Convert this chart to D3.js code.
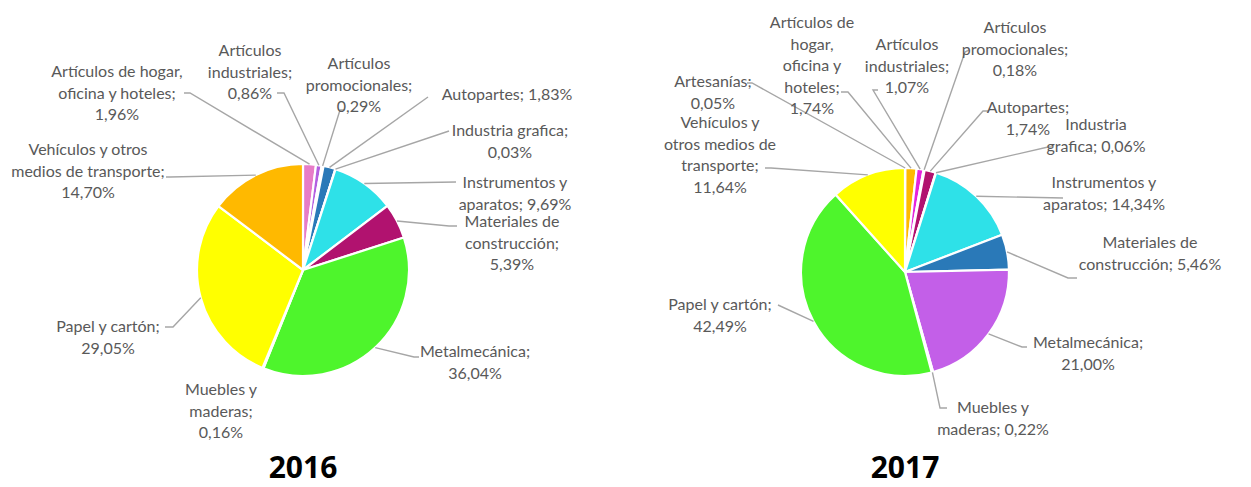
<!DOCTYPE html>
<html><head><meta charset="utf-8">
<script src="https://cdn.jsdelivr.net/npm/d3@7"></script>
<style>
html,body{margin:0;padding:0;background:#fff;}
svg{display:block;}
.lbl{font-family:Lato, "Open Sans", sans-serif;font-size:16px;fill:#595959;}
.year{font-family:"Open Sans", Lato, sans-serif;font-weight:700;font-size:30px;fill:#000;}
</style>
</head><body>
<svg id="c" width="1251" height="487"></svg>
<script>
// ---- data ----
const categories2016 = ["Artículos de hogar, oficina y hoteles","Artículos industriales","Artículos promocionales","Autopartes","Industria grafica","Instrumentos y aparatos","Materiales de construcción","Metalmecánica","Muebles y maderas","Papel y cartón","Vehículos y otros medios de transporte"];
const values2016 = [1.96,0.86,0.29,1.83,0.03,9.69,5.39,36.04,0.16,29.05,14.70];
const colors2016 = ["#e77cc7","#b35fe0","#efb7ea","#2a79b8","#1a9ad0","#2ee1e8","#b1126f","#4ef52c","#a0d070","#ffff00","#ffb900"];

const categories2017 = ["Artesanías","Artículos de hogar, oficina y hoteles","Artículos industriales","Artículos promocionales","Autopartes","Industria grafica","Instrumentos y aparatos","Materiales de construcción","Metalmecánica","Muebles y maderas","Papel y cartón","Vehículos y otros medios de transporte"];
const values2017 = [0.05,1.74,1.07,0.18,1.74,0.06,14.34,5.46,21.00,0.22,42.49,11.64];
const colors2017 = ["#f0a070","#ffb900","#e524dc","#f2b6ee","#b1126f","#1a9ad0","#2ee1e8","#2a79b8","#c35fe8","#a0d070","#4ef52c","#ffff00"];

const years = ["2016","2017"];

// ---- label layout (text lines with %v = value, anchor, leader points) ----
const layout2016 = [
  {lines:["Artículos de hogar,","oficina y hoteles;","%v"], x:117, y:77, leader:[[190,93],[184,93]]},
  {lines:["Artículos","industriales;","%v"], x:250, y:56, leader:[[284,93],[277,93]]},
  {lines:["Artículos","promocionales;","%v"], x:359, y:69, leader:[[340,110],[344,110]]},
  {lines:["Autopartes; %v"], x:507, y:100, leader:[[428,97]]},
  {lines:["Industria grafica;","%v"], x:510, y:136, leader:[[449,131]]},
  {lines:["Instrumentos y","aparatos; %v"], x:515, y:188, leader:[[456,182]]},
  {lines:["Materiales de","construcción;","%v"], x:512, y:227, leader:[[449,226],[457,226]]},
  {lines:["Metalmecánica;","%v"], x:475, y:357, leader:[[414,357],[419,357]]},
  {lines:["Muebles y","maderas;","%v"], x:221, y:395, leader:null},
  {lines:["Papel y cartón;","%v"], x:108, y:332, leader:[[173,327],[165,327]]},
  {lines:["Vehículos y otros","medios de transporte;","%v"], x:88, y:155, leader:[[170,177],[166,177]]}
];
const layout2017 = [
  {lines:["Artesanías;","%v"], x:713, y:87, leader:[[752,83],[747,83]]},
  {lines:["Artículos de","hogar,","oficina y","hoteles;","%v"], x:812, y:28, leader:[[848,92],[841,92]]},
  {lines:["Artículos","industriales;","%v"], x:907, y:50, leader:[[873,90],[878,90]]},
  {lines:["Artículos","promocionales;","%v"], x:1015, y:33, leader:[[965,52],[969,50]]},
  {lines:["Autopartes;","%v"], x:1028, y:113, leader:[[983,111],[988,111]]},
  {lines:["Industria","grafica; %v"], x:1096, y:130, leader:[[1048,147],[1052,147]]},
  {lines:["Instrumentos y","aparatos; %v"], x:1104, y:188, leader:[[1063,198]]},
  {lines:["Materiales de","construcción; %v"], x:1150, y:248, leader:[[1068,278],[1077,278]]},
  {lines:["Metalmecánica;","%v"], x:1088, y:348, leader:[[1022,347],[1027,347]]},
  {lines:["Muebles y","maderas; %v"], x:993, y:413, leader:[[940,408],[947,408]]},
  {lines:["Papel y cartón;","%v"], x:720, y:310, leader:[[778,305]]},
  {lines:["Vehículos y","otros medios de","transporte;","%v"], x:720, y:128, leader:[[771,168],[765,168]]}
];

const fmt = v => d3.format(".2f")(v).replace(".", ",") + "%";
const svg = d3.select("#c");

function drawPie(cx, cy, r, cats, vals, cols, layout, year){
  const g = svg.append("g").attr("transform", `translate(${cx},${cy})`);
  const pie = d3.pie().sort(null).value(d => d.v);
  const data = pie(cats.map((c,i)=>({c, v: vals[i], col: cols[i], lay: layout[i]})));
  const arc = d3.arc().innerRadius(0).outerRadius(r);
  const edge = d3.arc().innerRadius(r).outerRadius(r);
  // leaders
  data.forEach(d=>{
    const L = d.data.lay.leader;
    if(!L) return;
    const p0 = edge.centroid(d);
    const pts = [[p0[0]+cx, p0[1]+cy]].concat(L);
    svg.append("path")
      .attr("d", d3.line()(pts))
      .attr("fill","none").attr("stroke","#a6a6a6").attr("stroke-width",1.4);
  });
  g.selectAll("path.s").data(data).enter().append("path")
    .attr("class","s")
    .attr("d", arc)
    .attr("fill", d=>d.data.col)
    .attr("stroke","#fff").attr("stroke-width",2.2).attr("stroke-linejoin","round");
  // labels
  data.forEach(d=>{
    const lay = d.data.lay;
    const t = svg.append("text").attr("class","lbl").attr("text-anchor","middle");
    lay.lines.forEach((ln,i)=>{
      t.append("tspan").attr("x", lay.x).attr("y", lay.y + i*21.5).text(ln.replace("%v", fmt(d.data.v)));
    });
  });
  svg.append("text").attr("class","year").attr("text-anchor","middle")
    .attr("x", cx).attr("y", 478).text(year);
}

drawPie(303, 270, 106, categories2016, values2016, colors2016, layout2016, years[0]);
drawPie(905, 272, 104, categories2017, values2017, colors2017, layout2017, years[1]);
</script>
</body></html>
